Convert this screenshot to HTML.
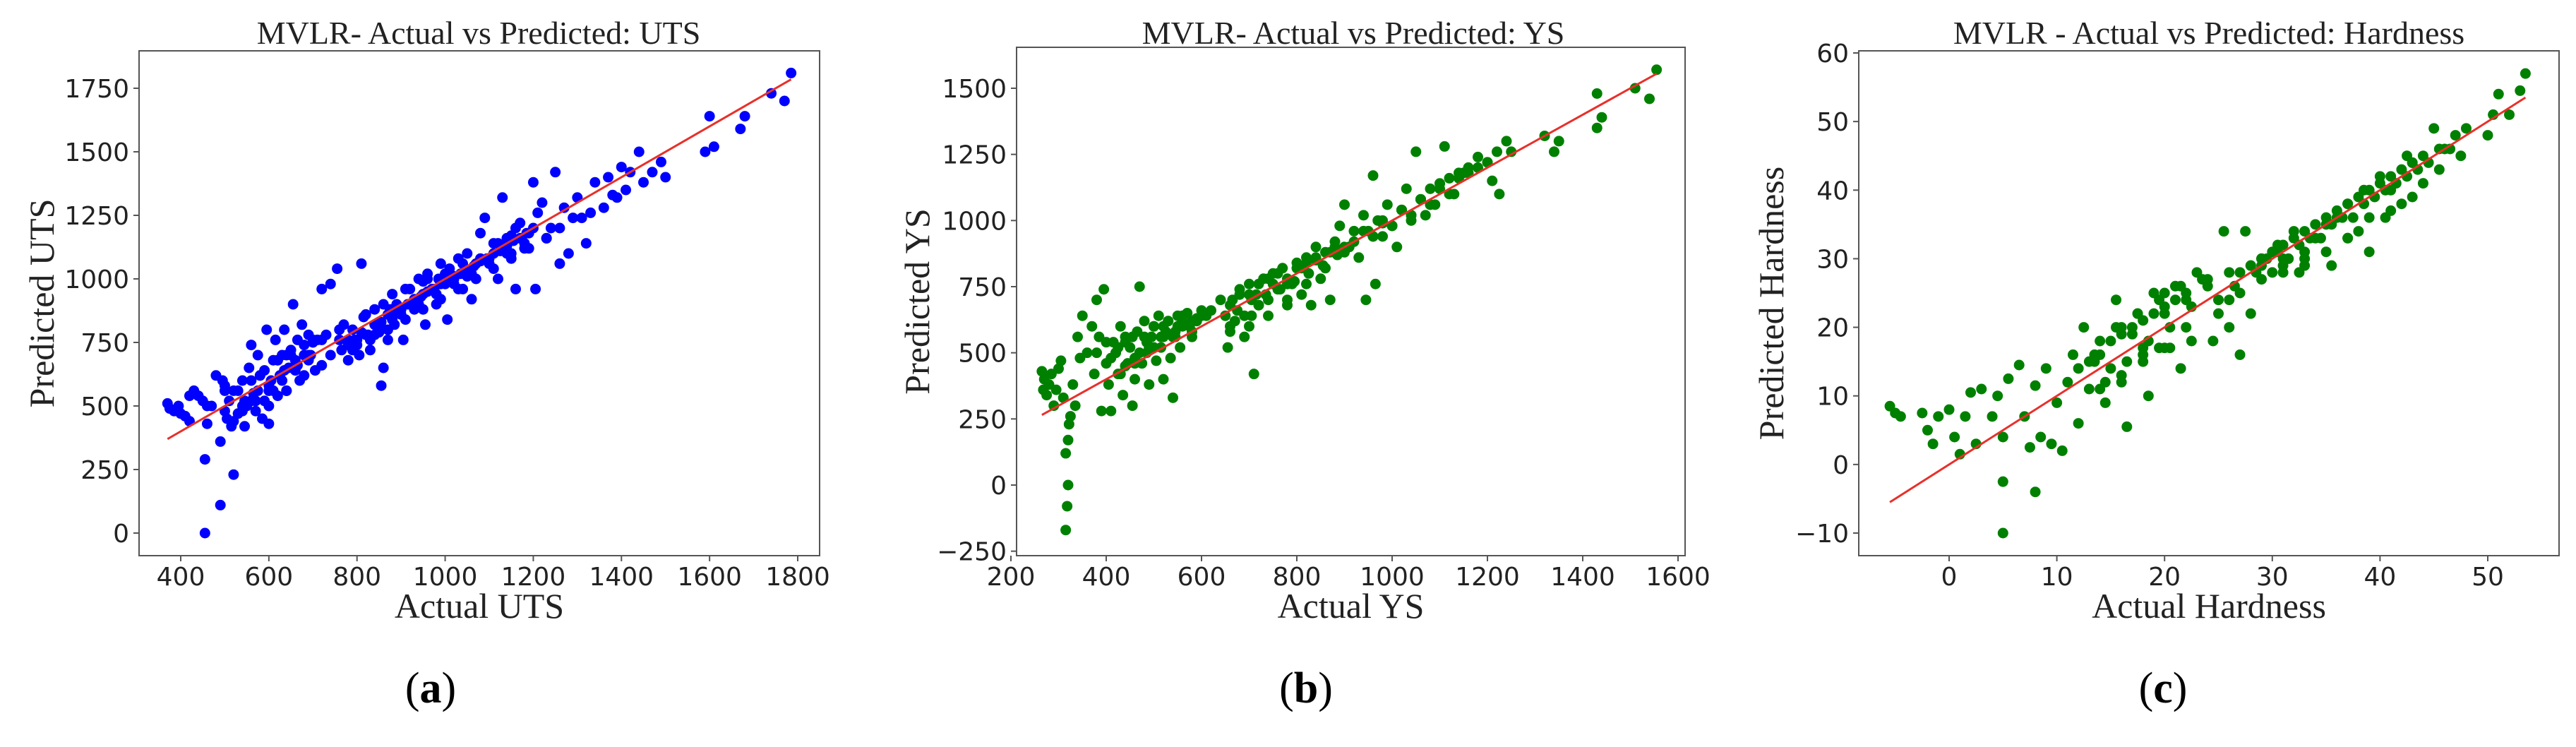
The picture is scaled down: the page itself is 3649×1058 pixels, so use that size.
<!DOCTYPE html>
<html><head><meta charset="utf-8">
<style>
html,body{margin:0;padding:0;background:#fff;}
svg{display:block;}
.tick{font-family:"DejaVu Sans","Liberation Sans",sans-serif;font-size:36px;fill:#222;}
.ttl{font-family:"Liberation Serif",serif;font-size:46px;fill:#222;}
.axl{font-family:"Liberation Serif",serif;font-size:50px;fill:#222;}
.cap{font-family:"Liberation Serif",serif;font-size:62px;fill:#000;}
</style></head>
<body>
<svg id="fig" width="3649" height="1058" viewBox="0 0 3649 1058" xmlns="http://www.w3.org/2000/svg"></svg>
<script>
// ---- Panel (a) UTS data ----
const utsActual = [370,375,385,395,400,410,420,430,440,450,455,455,460,470,480,490,490,495,500,505,510,515,520,520,530,540,545,550,555,560,565,570,575,580,585,590,595,600,600,610,615,620,625,630,635,640,645,650,655,660,665,670,675,680,690,700,705,720,730,740,755,760,765,770,780,790,800,805,810,815,820,830,840,850,855,860,870,875,880,885,890,900,905,910,920,930,940,950,955,960,970,980,985,990,1000,1005,1010,1020,1030,1040,1050,1060,1070,1080,1090,1100,1110,1120,1130,1140,1150,1160,1170,1180,1190,1200,1205,1210,1220,1230,1240,1250,1260,1270,1280,1300,1310,1320,1340,1360,1370,1390,1400,1420,1440,1450,1490,1500,1590,1600,1610,1670,1680,1740,1770,1785,
 560,580,610,640,660,690,720,740,760,780,800,820,840,860,880,900,920,940,960,980,1000,1020,1040,1060,1080,1100,1120,1140,1160,1180,500,540,620,700,850,950,1050,1150,
 530,545,560,575,590,605,620,635,650,665,680,695,710,540,570,600,630,660,690,780,795,810,825,840,855,870,885,900,915,930,945,960,975,990,1005,1020,1035,1050,1065,1080,1095,1110,1125,1140,1155,1170,1185,1200,790,830,870,910,950,990,1030,1070,1110,1150,1190,1230,1260,1290,1330,1380,1410,1470,420,460,500,520,560,600,640,680,720];
const utsPred = [510,490,480,500,470,460,440,560,540,520,290,0,430,500,620,110,360,600,480,450,520,420,230,560,470,600,420,500,650,740,550,480,700,620,450,520,800,580,430,680,760,540,620,700,800,560,650,720,900,680,760,600,820,700,780,750,640,960,780,980,1040,760,720,820,680,800,760,700,1060,850,780,720,880,800,580,650,760,880,940,820,900,860,760,960,900,880,1000,940,820,1020,960,900,1000,1060,980,840,1040,1000,1080,960,1100,920,1060,1180,1240,1080,1140,1000,1320,1160,1100,960,1220,1120,1180,1380,960,1260,1300,1160,1200,1420,1060,1280,1100,1320,1240,1140,1380,1280,1400,1320,1440,1420,1500,1380,1460,1400,1500,1640,1520,1590,1640,1730,1700,1810,
 520,620,560,700,650,700,760,700,800,760,740,860,780,900,840,880,960,900,1000,940,1020,980,1060,1020,1080,1060,1140,1100,1200,1140,580,500,680,760,790,990,1010,1170,
 560,520,600,560,640,600,680,640,700,660,740,700,760,480,520,560,600,640,680,740,760,790,780,820,830,860,870,880,900,920,930,950,960,980,990,1010,1020,1030,1050,1070,1080,1100,1110,1130,1150,1160,1180,1200,720,760,800,840,880,920,960,1000,1040,1080,1120,1160,1200,1240,1260,1330,1350,1420,540,500,560,440,520,500,560,620,660];
const utsXTicks = [400,600,800,1000,1200,1400,1600,1800];
const utsYTicks = [0,250,500,750,1000,1250,1500,1750];

// ---- Panel (b) YS data ----
const ysActual = [265,268,270,275,280,285,290,295,300,305,310,315,315,318,320,320,322,325,330,335,340,345,350,360,370,375,380,385,390,395,400,405,410,415,420,425,430,435,440,445,450,455,460,465,470,475,480,485,490,495,500,505,510,515,520,525,530,535,540,545,550,555,560,570,580,590,600,610,650,655,660,665,670,680,690,700,705,710,715,720,730,740,750,760,770,780,790,800,810,820,830,840,850,860,870,880,890,900,910,920,930,940,945,950,960,965,970,980,990,1000,1010,1020,1030,1040,1050,1060,1070,1080,1090,1100,1110,1120,1130,1140,1160,1180,1200,1210,1220,1225,1240,1250,1320,1340,1350,1430,1430,1440,1510,1540,1555,
 420,440,460,480,500,520,540,560,580,600,620,640,660,680,700,720,740,760,780,800,820,840,860,880,900,920,940,960,980,1000,1020,1040,1060,1080,1100,1120,1140,1160,
 410,425,440,455,470,485,500,515,530,545,560,575,590,430,460,490,520,550,580,380,400,660,675,690,705,720,735,750,765,780,795,810,825,840,855,870,885,900,960,980,1000,1020,1040,1060,1080,1100,1150,1180,1200,700,740,780,820];
const ysPred = [430,360,400,340,380,420,300,360,440,470,330,120,-170,-80,0,170,230,260,380,300,560,480,640,500,600,420,700,560,280,740,460,380,280,540,500,420,600,340,560,460,520,300,400,580,750,460,620,500,380,560,600,470,640,520,400,580,620,480,330,560,640,520,600,650,560,620,660,640,640,520,580,700,620,720,560,760,640,420,720,680,780,700,800,740,820,680,760,840,720,860,680,900,780,880,700,920,980,1060,900,960,860,1020,700,960,1170,760,1000,940,1060,980,900,1040,1120,1000,1260,1080,1020,1120,1060,1140,1280,1160,1100,1180,1200,1240,1220,1150,1260,1100,1300,1260,1320,1260,1300,1480,1350,1390,1500,1460,1570,
 500,540,480,560,520,600,560,620,580,640,660,700,680,740,720,760,780,800,760,820,840,860,820,900,880,920,960,940,1000,980,1040,1020,1080,1060,1120,1100,1160,1180,
 480,520,450,560,500,540,600,560,620,580,640,600,630,420,460,520,560,600,620,500,540,600,660,640,700,680,720,760,740,780,770,820,800,850,830,880,870,900,940,990,980,1040,1020,1080,1060,1140,1180,1200,1220,600,640,700,760];
const ysXTicks = [200,400,600,800,1000,1200,1400,1600];
const ysYTicks = [-250,0,250,500,750,1000,1250,1500];

// ---- Panel (c) Hardness data ----
const hdActual = [-5.5,-5,-4.5,-2.5,-2,-1.5,-1,0,0.5,1,1.5,2,2.5,3,4,4.5,5,5,5,5.5,6.5,7,7.5,8,8,8.5,9,9.5,10,10.5,11,11.5,12,12.5,13,13.5,14,14.5,15,15.5,16,16.5,17,17.5,18,18.5,19,19.5,20,20.5,21,21.5,22,22.5,23,24,24.5,25,25.5,26,26.5,27,27.5,28,28.5,29,30,30.5,31,32,32.5,33,34,35,35.5,36,37,38,38.5,39,40,40.5,41,42,42.5,43,44,45,45.5,46,47,47.5,48,50,50.5,51,52,53,53.5,
 12,13,14,15,16,17,18,19,20,21,22,26,27,28,29,30,31,32,33,34,35,36,37,38,39,40,41,42,43,44,14,16,18,20,29,31,33,37,39,
 13.5,14.5,15.5,16.5,17.5,18.5,19.5,20.5,21.5,22.5,23.5,16,18,20,22,24,25,26,27,28,29,29.5,30.5,31.5,32.5,33.5,34.5,35.5,36.5,37.5,38.5,39.5,40.5,41.5,42.5,43.5,44.5,45.5,46.5,31,33,35,37,41,43];
const hdPred = [8.5,7.5,7,7.5,5,3,7,8,4,1.5,7,10.5,3,11,7,10,4,-2.5,-10,12.5,14.5,7,2.5,-4,11.5,4,14,3,9,2,12,16,6,20,11,15,18,9,14,24,12,5.5,19,22,15,10,25,17,22,20,26,14,24,18,28,26,18,24,34,20,26,16,34,22,28,30,28,32,30,34,28,31,33,35,29,36,38,34,40,31,42,36,40,38,45,44,41,49,43,46,48,45,49,48,51,54,51,54.5,57,
 14,15,16,18,19,20,21,22,23,24,25,24,28,29,30,31,32,33,34,35,36,37,38,39,40,41,42,43,44,45,11,13,16,17,27,29,30,33,36,
 16,12,20,15,22,18,24,17,26,23,27,20,17,25,20,27,22,28,25,29,29,30,31,30,32,33,33,35,36,36,38,39,40,41,42,43,44,46,46,28,29,31,33,37,39];
const hdXTicks = [0,10,20,30,40,50];
const hdYTicks = [-10,0,10,20,30,40,50,60];

const NS = "http://www.w3.org/2000/svg";
const svg = document.getElementById('fig');
function mk(tag, attrs, parent){
  const e = document.createElementNS(NS, tag);
  for (const k in attrs) e.setAttribute(k, attrs[k]);
  (parent||svg).appendChild(e);
  return e;
}
function linScale(v0,p0,v1,p1){ return v => p0 + (v - v0) * (p1 - p0) / (v1 - v0); }

function panel(cfg){
  const g = mk('g', {});
  
  
  const xs = linScale(cfg.xv0, cfg.xp0, cfg.xv1, cfg.xp1);
  const ys = linScale(cfg.yv0, cfg.yp0, cfg.yv1, cfg.yp1);
  const fr = mk('rect', {x:cfg.L, y:cfg.T, width:cfg.R-cfg.L, height:cfg.B-cfg.T, fill:'#fff', stroke:'#555', 'stroke-width':2}, g);
  
  
  const pg = mk('g', {}, g);
  
  
  for (let i = 0; i < cfg.xs.length; i++){
    const c = mk('circle', {cx: xs(cfg.xs[i]), cy: ys(cfg.ys[i]), r: 7.5, fill: cfg.color}, pg);
    
    
  }
  const mn = Math.min(...cfg.xs), mx = Math.max(...cfg.xs);
  const ln = mk('line', {x1: xs(mn), y1: ys(mn), x2: xs(mx), y2: ys(mx), stroke:'#e8302a', 'stroke-width':3}, g);
  
  
  cfg.xt.forEach(v => {
    const x = xs(v);
    const t = mk('line', {x1:x, y1:cfg.B, x2:x, y2:cfg.B+8, stroke:'#555', 'stroke-width':2}, g);
    
    
    const tx = mk('text', {x:x, y:cfg.B+42, 'text-anchor':'middle', class:'tick'}, g);
    tx.textContent = String(v).replace('-', '\u2212');
    
    
  });
  cfg.yt.forEach(v => {
    const y = ys(v);
    const t = mk('line', {x1:cfg.L-8, y1:y, x2:cfg.L, y2:y, stroke:'#555', 'stroke-width':2}, g);
    
    
    const tx = mk('text', {x:cfg.L-14, y:y+13, 'text-anchor':'end', class:'tick'}, g);
    tx.textContent = String(v).replace('-', '\u2212');
    
    
  });
  const ti = mk('text', {x:cfg.titleX, y:62, 'text-anchor':'middle', class:'ttl'}, g);
  ti.textContent = cfg.title;
  
  
  const xl = mk('text', {x:(cfg.L+cfg.R)/2, y:875, 'text-anchor':'middle', class:'axl'}, g);
  xl.textContent = cfg.xlabel;
  
  
  const yl = mk('text', {x:0, y:0, 'text-anchor':'middle', class:'axl', transform:`translate(${cfg.ylx},${(cfg.T+cfg.B)/2}) rotate(-90)`}, g);
  yl.textContent = cfg.ylabel;
  
  
  const cp = mk('text', {x:cfg.capX, y:995, 'text-anchor':'middle', class:'cap'}, g);
  cp.innerHTML = '(<tspan font-weight="bold">' + cfg.cap + '</tspan>)';
  
  
}

panel({name:'panel-uts', L:197, R:1161, T:72, B:787, xv0:400, xp0:256, xv1:1800, xp1:1130, yv0:0, yp0:755, yv1:1750, yp1:125,
  xs:utsActual, ys:utsPred, xt:utsXTicks, yt:utsYTicks, color:'#0000ff', title:'MVLR- Actual vs Predicted: UTS',
  titleX:678, xlabel:'Actual UTS', ylabel:'Predicted UTS', ylx:76, capX:610, cap:'a'});
panel({name:'panel-ys', L:1440, R:2387, T:67, B:787, xv0:200, xp0:1432, xv1:1600, xp1:2377, yv0:0, yp0:687, yv1:1500, yp1:125,
  xs:ysActual, ys:ysPred, xt:ysXTicks, yt:ysYTicks, color:'#008000', title:'MVLR- Actual vs Predicted: YS',
  titleX:1917, xlabel:'Actual YS', ylabel:'Predicted YS', ylx:1316, capX:1850, cap:'b'});
panel({name:'panel-hardness', L:2633, R:3625, T:72, B:787, xv0:0, xp0:2761, xv1:50, xp1:3524, yv0:-10, yp0:755, yv1:60, yp1:75,
  xs:hdActual, ys:hdPred, xt:hdXTicks, yt:hdYTicks, color:'#008000', title:'MVLR - Actual vs Predicted: Hardness',
  titleX:3129, xlabel:'Actual Hardness', ylabel:'Predicted Hardness', ylx:2526, capX:3064, cap:'c'});
</script>
</body></html>
